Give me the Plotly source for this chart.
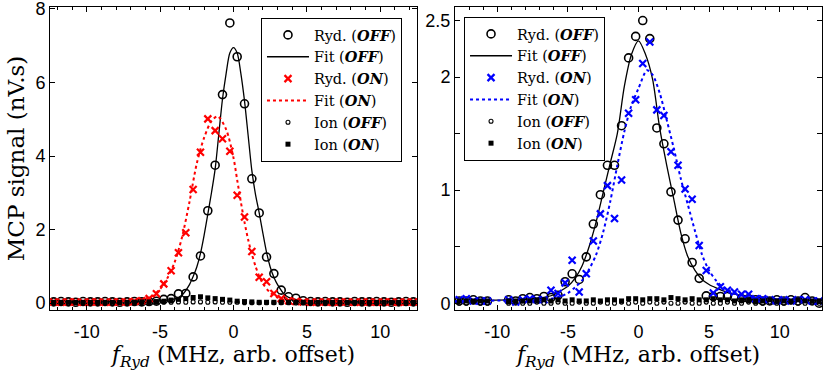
import plotly.graph_objects as go

# ---------------- data: left panel ----------------
L_x = [-12.25 + 0.5 * i for i in range(50)]
L_ryd_off = [0.03, 0.04, 0.03, 0.02, 0.04, 0.03, 0.03, 0.04, 0.03, 0.02, 0.03, 0.04, 0.03, 0.04, 0.05,
             0.10, 0.12, 0.25, 0.26, 0.71, 1.28, 2.51, 3.75, 5.67, 7.62, 6.70, 5.42, 3.38, 2.45, 1.25,
             0.80, 0.35, 0.17, 0.13, 0.06, 0.04, 0.03, 0.04, 0.03, 0.03, 0.02, 0.04, 0.03, 0.03, 0.04,
             0.03, 0.02, 0.03, 0.04, 0.03]
L_ryd_on = [0.03, 0.02, 0.03, 0.03, 0.02, 0.03, 0.03, 0.02, 0.03, 0.03, 0.03, 0.04, 0.06, 0.12, 0.25,
            0.52, 0.88, 1.37, 1.91, 3.09, 4.10, 5.01, 4.69, 4.47, 4.13, 2.93, 2.34, 1.40, 0.70, 0.58,
            0.26, 0.12, 0.06, 0.04, 0.03, 0.02, 0.03, 0.03, 0.02, 0.03, 0.03, 0.02, 0.03, 0.03, 0.02,
            0.03, 0.03, 0.02, 0.03, 0.03]
L_ion_off = [0.01, 0.01, 0.00, 0.01, 0.01, 0.00, 0.01, 0.01, 0.00, 0.01, 0.01, 0.01, 0.01, 0.01, 0.02,
             0.02, 0.02, 0.03, 0.02, 0.03, 0.03, 0.02, 0.03, 0.02, 0.02, 0.02, 0.01, 0.01, 0.01, 0.01,
             0.01, 0.01, 0.01, 0.00, 0.01, 0.01, 0.00, 0.01, 0.01, 0.00, 0.01, 0.01, 0.00, 0.01, 0.01,
             0.00, 0.01, 0.01, 0.00, 0.01]
L_ion_on = [0.02, 0.02, 0.02, 0.02, 0.02, 0.02, 0.02, 0.02, 0.02, 0.02, 0.02, 0.02, 0.03, 0.03, 0.04,
            0.05, 0.08, 0.10, 0.12, 0.15, 0.17, 0.14, 0.12, 0.10, 0.08, 0.05, 0.04, 0.03, 0.02, 0.02,
            0.02, 0.02, 0.02, 0.02, 0.02, 0.02, 0.02, 0.02, 0.02, 0.02, 0.02, 0.02, 0.02, 0.02, 0.02,
            0.02, 0.02, 0.02, 0.02, 0.02]

L_fit_off_x = [-12.5, -7, -5, -4, -3.5, -3, -2.75, -2.5, -2.25, -2, -1.75, -1.5, -1.25, -1, -0.75, -0.5, -0.25,
               0, 0.25, 0.5, 0.75, 1, 1.25, 1.5, 1.75, 2, 2.25, 2.5, 2.75, 3, 3.5, 4, 5, 7, 12.5]
L_fit_off_y = [0.03, 0.04, 0.06, 0.11, 0.22, 0.5, 0.72, 0.98, 1.35, 1.85, 2.42, 3.0, 3.65, 4.6, 5.55, 6.25, 6.8,
               6.95, 6.8, 6.25, 5.5, 4.55, 3.6, 2.95, 2.45, 1.9, 1.38, 0.98, 0.7, 0.5, 0.22, 0.12, 0.06, 0.04, 0.03]
L_fit_on_x = [-12.5, -8, -7, -6, -5.5, -5, -4.5, -4, -3.5, -3, -2.5, -2, -1.5, -1.07, -0.5, 0, 0.25, 0.5,
              0.75, 1, 1.25, 1.5, 1.75, 2, 2.5, 3, 3.5, 4, 5, 12.5]
L_fit_on_y = [0.03, 0.04, 0.06, 0.11, 0.2, 0.38, 0.68, 1.12, 1.8, 2.75, 3.8, 4.5, 4.95, 5.08, 4.72, 3.95, 3.35,
              2.75, 2.2, 1.72, 1.33, 1.0, 0.73, 0.53, 0.28, 0.15, 0.09, 0.06, 0.04, 0.03]

# ---------------- data: right panel ----------------
R_x = [-12.7, -12.2, -11.7, -11.2, -10.7, -9.2, -8.7, -8.2, -7.7, -7.2, -6.7, -6.2, -5.7, -5.2, -4.7, -4.2,
       -3.7, -3.2, -2.7, -2.2, -1.7, -1.2, -0.7, -0.2, 0.3, 0.8, 1.3, 1.8, 2.3, 2.8, 3.3, 3.8, 4.3, 4.8,
       5.3, 5.8, 6.3, 6.8, 7.3, 7.8, 8.3, 8.8, 9.3, 9.8, 10.3, 10.8, 11.3, 11.8, 12.3, 12.8]
R_ryd_off = [0.02, 0.02, 0.03, 0.02, 0.02, 0.03, 0.02, 0.04, 0.05, 0.04, 0.06, 0.05, 0.07, 0.19, 0.26, 0.21,
             0.41, 0.70, 0.96, 1.22, 1.22, 1.57, 2.17, 2.36, 2.50, 2.34, 1.55, 1.41, 0.985, 0.735, 0.57, 0.36,
             0.22, 0.065, 0.06, 0.06, 0.06, 0.05, 0.04, 0.04, 0.03, 0.02, 0.02, 0.03, 0.02, 0.03, 0.02, 0.05,
             0.02, 0.0]
R_ryd_on = [0.03, 0.04, 0.02, 0.02, 0.02, 0.03, 0.01, 0.03, 0.04, 0.03, 0.03, 0.115, 0.086, 0.18, 0.38, 0.10,
            0.26, 0.55, 0.79, 1.04, 0.75, 1.09, 1.68, 1.80, 2.12, 2.31, 1.71, 1.66, 1.34, 1.22, 1.01, 0.92,
            0.51, 0.29, 0.09, 0.145, 0.115, 0.10, 0.08, 0.08, 0.04, 0.04, 0.03, 0.02, 0.03, 0.02, 0.03, 0.03,
            0.02, 0.02]
R_ion_off = [0.0, 0.0, 0.01, 0.0, 0.0, 0.0, 0.01, 0.0, 0.0, 0.01, 0.0, 0.0, 0.01, 0.0, 0.0, 0.01,
             0.0, 0.0, 0.01, 0.0, 0.0, 0.01, 0.0, 0.01, 0.0, 0.01, 0.0, 0.01, 0.0, 0.0, 0.01, 0.0,
             0.0, 0.01, 0.0, 0.0, 0.01, 0.0, 0.0, 0.01, 0.0, 0.0, 0.01, 0.0, 0.0, 0.01, 0.0, 0.0, 0.01, 0.0]
R_ion_on = [0.02, 0.02, 0.02, 0.02, 0.02, 0.02, 0.02, 0.02, 0.02, 0.03, 0.03, 0.02, 0.03, 0.02, 0.03, 0.02,
            0.02, 0.03, 0.02, 0.03, 0.03, 0.02, 0.04, 0.04, 0.03, 0.04, 0.04, 0.03, 0.05, 0.04, 0.03, 0.04,
            0.03, 0.03, 0.04, 0.03, 0.03, 0.02, 0.03, 0.03, 0.02, 0.02, 0.03, 0.02, 0.02, 0.02, 0.03, 0.02,
            0.02, 0.02]

R_fit_off_x = [-13, -11, -9, -8, -7, -6, -5.5, -5, -4.5, -4, -3.5, -3, -2.5, -2, -1.5, -1, -0.5, 0, 0.5, 1,
               1.5, 2, 2.5, 3, 3.5, 4, 4.5, 5, 5.5, 6, 7, 8, 9, 11, 13]
R_fit_off_y = [0.02, 0.025, 0.03, 0.035, 0.045, 0.075, 0.11, 0.15, 0.22, 0.33, 0.5, 0.72, 0.98, 1.24, 1.5, 1.92,
               2.2, 2.32, 2.2, 1.98, 1.55, 1.22, 0.92, 0.62, 0.41, 0.29, 0.21, 0.165, 0.135, 0.11, 0.075, 0.05,
               0.04, 0.03, 0.025]
R_fit_on_x = [-13, -9, -7, -6.5, -6, -5.5, -5, -4.5, -4, -3.5, -3, -2.5, -2, -1.5, -1, -0.5, 0, 0.6, 1, 1.5,
              2, 2.5, 3, 3.5, 4, 4.5, 5, 5.5, 6, 7, 8, 9, 13]
R_fit_on_y = [0.02, 0.025, 0.03, 0.035, 0.045, 0.06, 0.09, 0.14, 0.2, 0.3, 0.43, 0.63, 0.9, 1.22, 1.52, 1.75,
              1.9, 2.06, 2.02, 1.86, 1.62, 1.37, 1.1, 0.87, 0.64, 0.43, 0.29, 0.2, 0.14, 0.08, 0.05, 0.035, 0.02]

# ---------------- labels ----------------
x_tickvals = [-10, -5, 0, 5, 10]
x_ticktext = ["-10", "-5", "0", "5", "10"]
L_y_tickvals = [0, 2, 4, 6, 8]
L_y_ticktext = ["0", "2", "4", "6", "8"]
R_y_tickvals = [0, 0.5, 1, 1.5, 2, 2.5]
R_y_ticktext = ["0", "", "1", "", "2", "2.5"]
names = ["Ryd. (<b><i>OFF</i></b>)", "Fit (<b><i>OFF</i></b>)", "Ryd. (<b><i>ON</i></b>)",
         "Fit (<b><i>ON</i></b>)", "Ion (<b><i>OFF</i></b>)", "Ion (<b><i>ON</i></b>)"]
x_title = "<i>f</i><sub><i>Ryd</i></sub> (MHz, arb. offset)"
y_title = "MCP signal (nV.s)"

SERIF = "DejaVu Serif"
SANS = "Liberation Sans"

fig = go.Figure()


def add_panel(xa, ya, leg, xs, ryd_off, ryd_on, ion_off, ion_on, fox, foy, fnx, fny, oncolor):
    fig.add_trace(go.Scatter(x=xs, y=ryd_off, mode="markers", name=names[0], xaxis=xa, yaxis=ya, legend=leg,
                             marker=dict(symbol="circle-open", size=8, color="black", line=dict(width=1.6))))
    fig.add_trace(go.Scatter(x=fox, y=foy, mode="lines", name=names[1], xaxis=xa, yaxis=ya, legend=leg,
                             line=dict(color="black", width=1.3, shape="spline", smoothing=0.8)))
    fig.add_trace(go.Scatter(x=xs, y=ryd_on, mode="markers", name=names[2], xaxis=xa, yaxis=ya, legend=leg,
                             marker=dict(symbol="x-thin-open", size=7, color=oncolor, line=dict(width=2.2, color=oncolor))))
    fig.add_trace(go.Scatter(x=fnx, y=fny, mode="lines", name=names[3], xaxis=xa, yaxis=ya, legend=leg,
                             line=dict(color=oncolor, width=2, dash="dot", shape="spline", smoothing=0.8)))
    fig.add_trace(go.Scatter(x=xs, y=ion_off, mode="markers", name=names[4], xaxis=xa, yaxis=ya, legend=leg,
                             marker=dict(symbol="circle-open", size=4, color="black", line=dict(width=1.1))))
    fig.add_trace(go.Scatter(x=xs, y=ion_on, mode="markers", name=names[5], xaxis=xa, yaxis=ya, legend=leg,
                             marker=dict(symbol="square", size=5, color="black")))


add_panel("x", "y", "legend", L_x, L_ryd_off, L_ryd_on, L_ion_off, L_ion_on,
          L_fit_off_x, L_fit_off_y, L_fit_on_x, L_fit_on_y, "#ff0000")
add_panel("x2", "y2", "legend2", R_x, R_ryd_off, R_ryd_on, R_ion_off, R_ion_on,
          R_fit_off_x, R_fit_off_y, R_fit_on_x, R_fit_on_y, "#0000ff")

axis_common = dict(showline=True, linecolor="black", linewidth=1, mirror="ticks", ticks="inside",
                   ticklen=5, tickwidth=1, tickcolor="black", showgrid=False, zeroline=False,
                   tickfont=dict(family=SANS, size=18, color="black"), automargin=False,
                   ticklabeloverflow="allow")

x_common = dict(axis_common, tickvals=x_tickvals, ticktext=x_ticktext, ticklabelstandoff=5,
                minor=dict(ticks="inside", dtick=1, tick0=0, ticklen=3, tickcolor="black", showgrid=False),
                title=dict(text=x_title, font=dict(family=SERIF, size=22, color="black"), standoff=8))

legend_common = dict(xanchor="left", yanchor="top", bgcolor="white", bordercolor="black", borderwidth=1,
                     font=dict(family=SERIF, size=14.5, color="black"), itemwidth=42, tracegroupgap=0)

fig.update_layout(
    width=823, height=371,
    margin=dict(l=50, r=1, t=7, b=61),
    paper_bgcolor="white", plot_bgcolor="white",
    font=dict(family=SERIF, color="black"),
    xaxis=dict(x_common, domain=[0, 0.4754], range=[-12.5, 12.5], anchor="y"),
    yaxis=dict(axis_common, domain=[0, 1], range=[-0.19, 8.054], tickvals=L_y_tickvals, ticktext=L_y_ticktext,
               anchor="x", title=dict(text=y_title, font=dict(family=SERIF, size=23, color="black"), standoff=4)),
    xaxis2=dict(x_common, domain=[0.5246, 1.0], range=[-13, 13], anchor="y2"),
    yaxis2=dict(axis_common, domain=[0, 1], range=[-0.06, 2.62], tickvals=R_y_tickvals, ticktext=R_y_ticktext,
                anchor="x2"),
    legend=dict(legend_common, x=0.2733, y=0.9637),
    legend2=dict(legend_common, x=0.5363, y=0.967),
)

fig.write_html("out.html", config={"displayModeBar": False},
               post_script="document.body.style.margin='0';document.body.style.padding='0';")
